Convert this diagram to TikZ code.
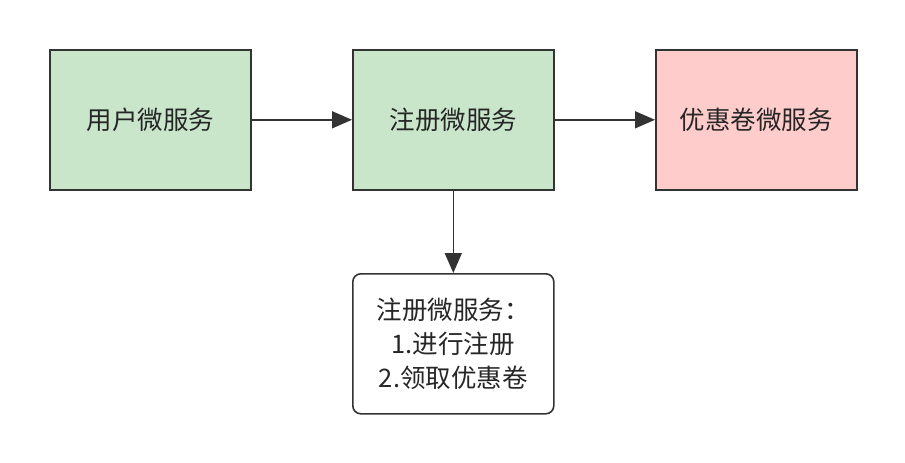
\documentclass[tikz,border=0pt]{standalone}
\usepackage{fontspec}
\newfontfamily\cjk{Noto Sans CJK SC}
\usetikzlibrary{arrows.meta}
\definecolor{gfill}{HTML}{C9E6CB}
\definecolor{rfill}{HTML}{FFCCCC}
\definecolor{edge}{HTML}{333333}
\begin{document}
\begin{tikzpicture}[x=1pt,y=-1pt,
  box/.style={draw=edge,line width=1.6pt,minimum width=201pt,minimum height=140pt,inner sep=0pt,
    font=\cjk\fontsize{25.5}{34}\selectfont,text=black!85,anchor=north west},
  conn/.style={draw=edge,line width=1.6pt,-{Triangle[length=20pt,width=17pt]}}]
\useasboundingbox (0,0) rectangle (905,463);
\node[box,fill=gfill] (user) at (49,49) {用户微服务};
\node[box,fill=gfill] (reg) at (352,49) {注册微服务};
\node[box,fill=rfill] (coupon) at (655,49) {优惠卷微服务};
\node[box,rounded corners=8pt,fill=white,align=center] (note) at (352,273) {注册微服务：\\1.进行注册\\2.领取优惠卷};
\draw[conn] (user) -- (reg);
\draw[conn] (reg) -- (coupon);
\draw[conn] (reg) -- (note);
\end{tikzpicture}
\end{document}
